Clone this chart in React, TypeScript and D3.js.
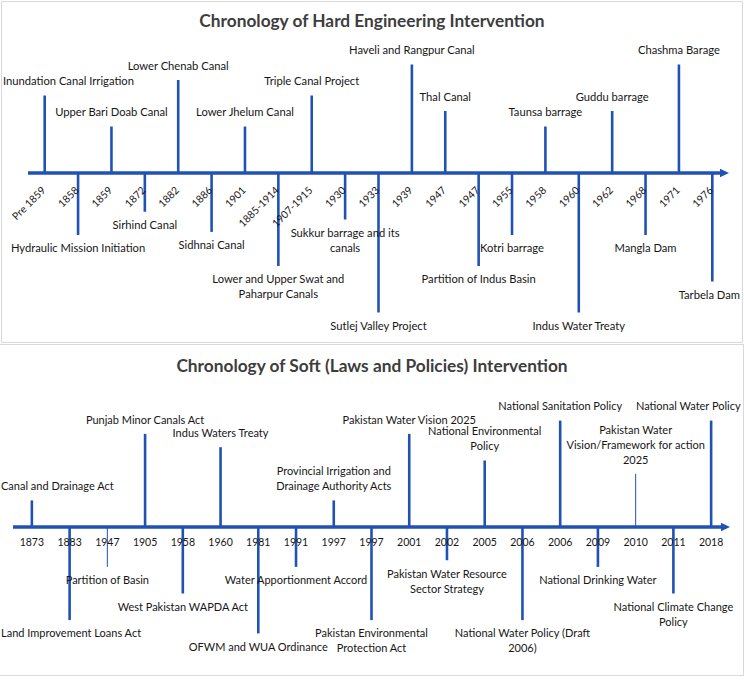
import React, { useEffect, useRef } from "react";
import * as d3 from "d3";

// ---------- Data: hard engineering interventions ----------
const hardYears = ["Pre 1859", "1858", "1859", "1872", "1882", "1886", "1901", "1885-1914", "1907-1915", "1930", "1933", "1939", "1947", "1947", "1955", "1958", "1960", "1962", "1968", "1971", "1976"];
const hardEvents = [
  "Inundation Canal Irrigation",
  "Hydraulic Mission Initiation",
  "Upper Bari Doab Canal",
  "Sirhind Canal",
  "Lower Chenab Canal",
  "Sidhnai Canal",
  "Lower Jhelum Canal",
  "Lower and Upper Swat and|Paharpur Canals",
  "Triple Canal Project",
  "Sukkur barrage and its|canals",
  "Sutlej Valley Project",
  "Haveli and Rangpur Canal",
  "Thal Canal",
  "Partition of Indus Basin",
  "Kotri barrage",
  "Taunsa barrage",
  "Indus Water Treaty",
  "Guddu barrage",
  "Mangla Dam",
  "Chashma Barage",
  "Tarbela Dam",
];
// stem height (positive = above the axis, negative = below)
const hardHeights = [5, -4, 3, -2.5, 6, -3.8, 3, -6, 5, -3, -9, 7, 4, -6, -4, 3, -9, 4, -4, 7, -7];
const hardThin: number[] = [];

// ---------- Data: soft (laws and policies) interventions ----------
const softYears = ["1873", "1883", "1947", "1905", "1958", "1960", "1981", "1991", "1997", "1997", "2001", "2002", "2005", "2006", "2006", "2009", "2010", "2011", "2018"];
const softEvents = [
  "Canal and Drainage Act",
  "Land Improvement Loans Act",
  "Partition of Basin",
  "Punjab Minor Canals Act",
  "West Pakistan WAPDA Act",
  "Indus Waters Treaty",
  "OFWM and WUA  Ordinance",
  "Water Apportionment Accord",
  "Provincial Irrigation and|Drainage Authority Acts",
  "Pakistan Environmental|Protection Act",
  "Pakistan Water Vision 2025",
  "Pakistan Water Resource|Sector Strategy",
  "National Environmental|Policy",
  "National Water Policy (Draft|2006)",
  "National Sanitation Policy",
  "National Drinking Water",
  "Pakistan Water|Vision/Framework for action|2025",
  "National Climate Change|Policy",
  "National Water Policy",
];
const softHeights = [2, -7, -3, 7, -5, 6, -8, -3, 2, -7, 7, -2.5, 5, -7, 8, -3, 4, -5, 8];
const softThin = [2, 16];

const BLUE = "#1F52B4";
const TEXT = "#161616";
const FONT = "Lato, 'Open Sans', sans-serif";

type PanelCfg = {
  top: number;
  height: number;
  left: number;
  width: number;
  title: string;
  titleY: number;
  xRange: [number, number];
  yDomain: [number, number];
  yPx: [number, number];
  years: string[];
  events: string[];
  heights: number[];
  thin: number[];
  rotateYears: boolean;
  labelSize: number;
  yearSize: number;
};

function drawPanel(svg: d3.Selection<SVGSVGElement, unknown, null, undefined>, c: PanelCfg) {
  const g = svg.append("g");
  g.append("rect")
    .attr("x", c.left + 0.5)
    .attr("y", c.top + 0.5)
    .attr("width", c.width)
    .attr("height", c.height)
    .attr("fill", "#fff")
    .attr("stroke", "#d9d9d9")
    .attr("stroke-width", 1);

  g.append("text")
    .attr("x", 372)
    .attr("y", c.titleY)
    .attr("text-anchor", "middle")
    .attr("font-family", FONT)
    .attr("font-size", 17.3)
    .attr("font-weight", 700)
    .attr("fill", "#3d3d3d")
    .text(c.title);

  const idx = c.years.map((_, i) => i);
  const x = d3.scaleBand<number>().domain(idx).range(c.xRange);
  const cx = (i: number) => (x(i) as number) + x.bandwidth() / 2;
  const y = d3.scaleLinear().domain(c.yDomain).range(c.yPx);
  const y0 = y(0);

  // stems
  g.selectAll("line.stem")
    .data(idx)
    .join("line")
    .attr("class", "stem")
    .attr("x1", cx)
    .attr("x2", cx)
    .attr("y1", y0)
    .attr("y2", (i) => y(c.heights[i]))
    .attr("stroke", BLUE)
    .attr("stroke-width", (i) => (c.thin.includes(i) ? 1 : 2.6));

  // axis with arrow
  const [r0, r1] = c.xRange;
  g.append("line")
    .attr("x1", r0)
    .attr("x2", r1 - 8)
    .attr("y1", y0)
    .attr("y2", y0)
    .attr("stroke", BLUE)
    .attr("stroke-width", 3.5);
  g.append("path")
    .attr("d", `M${r1 - 9},${y0 - 4.2}L${r1},${y0}L${r1 - 9},${y0 + 4.2}Z`)
    .attr("fill", BLUE);

  // year labels
  if (c.rotateYears) {
    g.selectAll("text.year")
      .data(idx)
      .join("text")
      .attr("class", "year")
      .attr("text-anchor", "end")
      .attr("font-family", FONT)
      .attr("font-size", c.yearSize)
      .attr("fill", TEXT)
      .attr("transform", (i) => `translate(${cx(i) + 1.5},${y0 + 18}) rotate(-45)`)
      .text((i) => c.years[i]);
  } else {
    g.selectAll("text.year")
      .data(idx)
      .join("text")
      .attr("class", "year")
      .attr("text-anchor", "middle")
      .attr("font-family", FONT)
      .attr("font-size", c.yearSize)
      .attr("fill", TEXT)
      .attr("x", cx)
      .attr("y", y0 + 19)
      .text((i) => c.years[i]);
  }

  // event labels
  const lineH = 15;
  idx.forEach((i) => {
    const lines = c.events[i].split("|");
    const h = c.heights[i];
    const tip = y(h);
    const t = g
      .append("text")
      .attr("text-anchor", "middle")
      .attr("font-family", FONT)
      .attr("font-size", c.labelSize)
      .attr("fill", TEXT);
    lines.forEach((ln, k) => {
      const centerY = h > 0 ? tip - 14 - (lines.length - 1 - k) * lineH : tip + 13.5 + k * lineH;
      t.append("tspan")
        .attr("x", cx(i))
        .attr("y", centerY + 3.8)
        .text(ln);
    });
    // keep label inside the panel
    const bb = (t.node() as SVGTextElement).getBBox();
    let dx = 0;
    if (bb.x < c.left + 2) dx = c.left + 2 - bb.x;
    if (bb.x + bb.width > c.left + c.width - 2) dx = c.left + c.width - 2 - (bb.x + bb.width);
    if (dx !== 0) t.attr("transform", `translate(${dx},0)`);
  });
}

export default function App() {
  const ref = useRef<SVGSVGElement>(null);
  useEffect(() => {
    const svg = d3.select(ref.current as SVGSVGElement);
    svg.selectAll("*").remove();
    drawPanel(svg, {
      top: 1,
      height: 341,
      left: 1,
      width: 741,
      title: "Chronology of Hard Engineering Intervention",
      titleY: 27,
      xRange: [28, 729],
      yDomain: [-9, 7],
      yPx: [173 + 139.5, 173 - 108.5],
      years: hardYears,
      events: hardEvents,
      heights: hardHeights,
      thin: hardThin,
      rotateYears: true,
      labelSize: 11.2,
      yearSize: 10.4,
    });
    drawPanel(svg, {
      top: 344,
      height: 331,
      left: -1,
      width: 744,
      title: "Chronology of Soft (Laws and Policies) Intervention",
      titleY: 372,
      xRange: [13, 730],
      yDomain: [-8, 8],
      yPx: [527 + 106.4, 527 - 106.4],
      years: softYears,
      events: softEvents,
      heights: softHeights,
      thin: softThin,
      rotateYears: false,
      labelSize: 11,
      yearSize: 10.5,
    });
  }, []);
  return (
    <svg
      ref={ref}
      width={744}
      height={680}
      style={{ position: "absolute", left: 0, top: 0, background: "#fff" }}
    />
  );
}
